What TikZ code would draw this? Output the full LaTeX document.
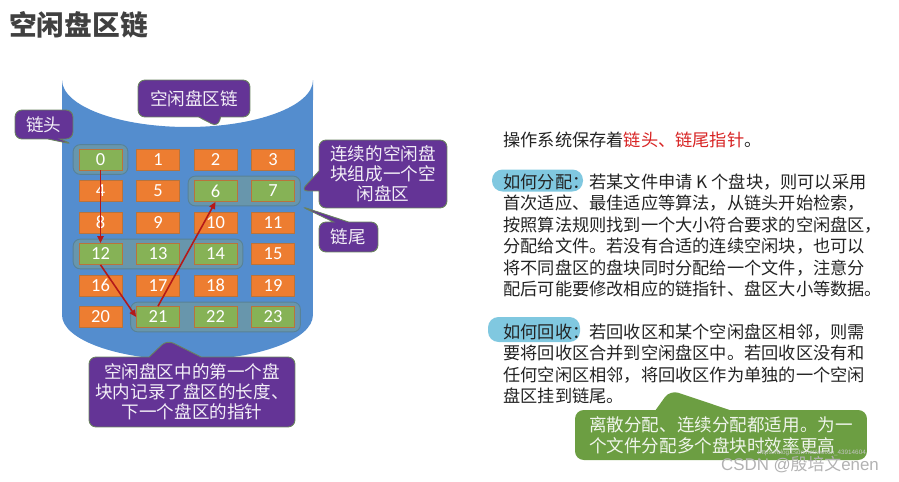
\documentclass[tikz,border=0pt]{standalone}
\usepackage{fontspec}
\setmainfont{Noto Sans CJK SC}
\newfontfamily\numfont{Carlito}
\newfontfamily\wmfont{Liberation Sans}
\usetikzlibrary{arrows.meta, positioning, calc, backgrounds, fit, shapes.callouts}
\definecolor{cBlue}{RGB}{84,141,206}
\definecolor{cOrange}{RGB}{237,125,49}
\definecolor{cGreen}{RGB}{134,178,86}
\definecolor{cBlkEdge}{RGB}{185,115,60}
\definecolor{cGroup}{RGB}{104,150,172}
\definecolor{cGroupEdge}{RGB}{88,130,150}
\definecolor{cPurple}{RGB}{100,52,150}
\definecolor{cPurpleEdge}{RGB}{105,130,95}
\definecolor{cNote}{RGB}{108,158,66}
\definecolor{cMark}{RGB}{128,200,224}
\definecolor{cRed}{RGB}{215,35,35}
\definecolor{cArrow}{RGB}{180,25,25}
\definecolor{cTitle}{RGB}{64,64,64}
\definecolor{cText}{RGB}{35,35,35}

\begin{document}
\begin{tikzpicture}[
  x=0.02cm, y=0.02cm,
  blk/.style={minimum width=0.86cm, minimum height=0.42cm, inner sep=0pt,
              draw=cBlkEdge, line width=0.4pt, text=white,
              font=\numfont\fontsize{10.5}{12}\selectfont},
  used/.style={blk, fill=cOrange},
  free/.style={blk, fill=cGreen},
  grp/.style={draw=cGroupEdge, fill=cGroup, rounded corners=4pt,
              inner xsep=0.11cm, inner ysep=0.08cm, line width=0.5pt},
  callout/.style={rectangle callout, rounded corners=4pt, fill=cPurple,
                  draw=cPurpleEdge, line width=0.5pt, text=white!92!cPurple,
                  align=center, inner sep=0pt,
                  font=\fontsize{10}{11.5}\selectfont},
  note/.style={rectangle callout, rounded corners=5pt, fill=cNote,
               text=white!90!cNote, align=left, inner sep=0pt,
               font=\fontsize{10}{11.8}\selectfont},
  para/.style={anchor=north west, align=left, inner sep=0pt, text=cText,
               font=\fontsize{9.8}{12.2}\selectfont},
  ptr/.style={-{Triangle[length=4pt, width=3.5pt]}, draw=cArrow, line width=0.9pt}
]
\useasboundingbox (0,0) rectangle (899,481);

%% Title
\node[anchor=west, text=cTitle, font=\bfseries\fontsize{15.8}{18}\selectfont]
  (title) at (3,456) {空闲盘区链};

%% Disk (cylinder)
\begin{scope}[on background layer]
\fill[cBlue] (62,401) -- (62,166)
  arc[start angle=180, end angle=360, x radius=2.51cm, y radius=0.9cm]
  -- (313,401)
  arc[start angle=0, end angle=-180, x radius=2.51cm, y radius=0.94cm] -- cycle;
\end{scope}
\coordinate (rim) at (218,354);
\coordinate (base) at (167,141);

%% Blocks
\node[free] (b0)  at (100.5,321.5) {0};
\node[used] (b1)  at (158,321.5)   {1};
\node[used] (b2)  at (215.5,321.5) {2};
\node[used] (b3)  at (273,321.5)   {3};
\node[used] (b4)  at (100.5,290)   {4};
\node[used] (b5)  at (158,290)     {5};
\node[free] (b6)  at (215.5,290)   {6};
\node[free] (b7)  at (273,290)     {7};
\node[used] (b8)  at (100.5,258.5) {8};
\node[used] (b9)  at (158,258.5)   {9};
\node[used] (b10) at (215.5,258.5) {10};
\node[used] (b11) at (273,258.5)   {11};
\node[free] (b12) at (100.5,227)   {12};
\node[free] (b13) at (158,227)     {13};
\node[free] (b14) at (215.5,227)   {14};
\node[used] (b15) at (273,227)     {15};
\node[used] (b16) at (100.5,195.5) {16};
\node[used] (b17) at (158,195.5)   {17};
\node[used] (b18) at (215.5,195.5) {18};
\node[used] (b19) at (273,195.5)   {19};
\node[used] (b20) at (100.5,164)   {20};
\node[free] (b21) at (158,164)     {21};
\node[free] (b22) at (215.5,164)   {22};
\node[free] (b23) at (273,164)     {23};

%% Free zones
\begin{scope}[on background layer]
\node[grp, fit=(b0)] (g0) {};
\node[grp, fit=(b6)(b7)] (g67) {};
\node[grp, fit=(b12)(b14)] (g1214) {};
\node[grp, fit=(b21)(b23)] (g2123) {};
\end{scope}

%% Chain pointers
\draw[ptr] (b0.south)  -- (b12.north);
\draw[ptr] (b12.south) -- (b21.west);
\draw[ptr] (b21.north) -- (b6.south);

%% Callouts
\node[callout, minimum width=1.16cm, minimum height=0.58cm,
      callout absolute pointer={(g0.north west)}, callout pointer width=0.24cm]
  (head) at (44,356.5) {链头};
\node[callout, minimum width=2.24cm, minimum height=0.74cm,
      callout absolute pointer={(rim)}, callout pointer width=0.44cm]
  (chain) at (194,382.5) {空闲盘区链};
\node[callout, minimum width=2.56cm, minimum height=1.36cm,
      callout absolute pointer={(g67.east)}, callout pointer width=0.4cm]
  (zone) at (383,307) {连续的空闲盘\\块组成一个空\\闲盘区};
\node[callout, minimum width=1.18cm, minimum height=0.6cm,
      callout absolute pointer={(g67.south east)}, callout pointer width=0.3cm]
  (tail) at (348.5,244) {链尾};
\node[callout, minimum width=4.12cm, minimum height=1.4cm,
      callout absolute pointer={(base)}, callout pointer width=1.04cm]
  (first) at (192,89) {空闲盘区中的第一个盘\\块内记录了盘区的长度、\\下一个盘区的指针};

%% Right-hand text
\node[para] (keep) at (503,349.5)
  {操作系统保存着{\color{cRed}链头、链尾指针}。};
\node[para] (alloc) at (503,307.5)
  {如何分配：若某文件申请 K 个盘块，则可以采用\\
   首次适应、最佳适应等算法，从链头开始检索，\\
   按照算法规则找到一个大小符合要求的空闲盘区，\\
   分配给文件。若没有合适的连续空闲块，也可以\\
   将不同盘区的盘块同时分配给一个文件，注意分\\
   配后可能要修改相应的链指针、盘区大小等数据。};
\node[para] (free) at (503,157.5)
  {如何回收：若回收区和某个空闲盘区相邻，则需\\
   要将回收区合并到空闲盘区中。若回收区没有和\\
   任何空闲区相邻，将回收区作为单独的一个空闲\\
   盘区挂到链尾。};

\begin{scope}[on background layer]
\fill[cMark, rounded corners=6pt]
  ($(alloc.north west)+(-11,4)$) rectangle ++(91,-22);
\fill[cMark, rounded corners=6pt]
  ($(free.north west)+(-15,6.5)$) rectangle ++(92,-25);
\end{scope}

\coordinate (tip) at (670,91);
\node[note, minimum width=5.84cm, minimum height=1.0cm,
      callout absolute pointer={(tip)}, callout pointer width=1.48cm]
  (scope note) at (721,46)
  {离散分配、连续分配都适用。为一\\个文件分配多个盘块时效率更高};

%% Watermark
\node[text=gray!45, font=\wmfont\fontsize{3.6}{4}\selectfont]
  (url) at (812,28) {https://blog.csdn.net/weixin\_43914604};
\node[text=gray!60, font=\fontsize{9.6}{11}\selectfont]
  (wmark) at (800,16) {{\wmfont CSDN @}殷培文{\wmfont enen}};
\end{tikzpicture}
\end{document}
